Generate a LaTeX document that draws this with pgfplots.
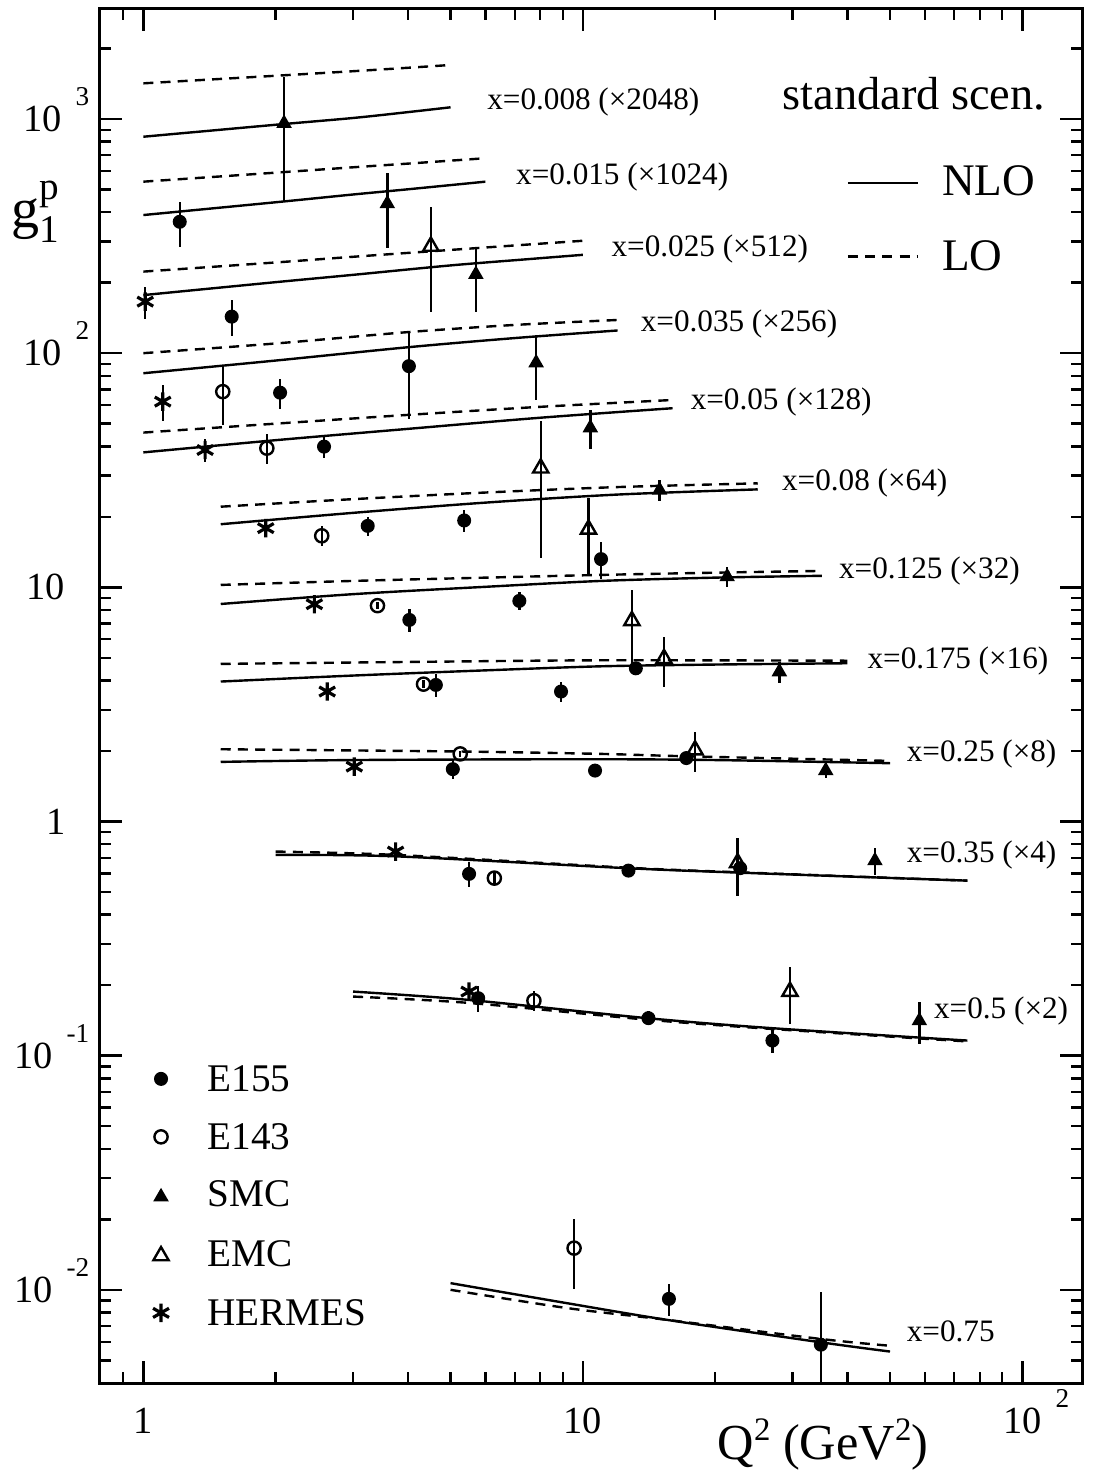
\documentclass[border=0pt]{standalone}
\usepackage{fontspec}
\setmainfont{Liberation Serif}
\usepackage{pgfplots}
\usepackage{pgfplotstable}
\pgfplotsset{compat=1.18}

\newcommand{\fs}[1]{\fontsize{#1}{#1}\selectfont}
\newcommand{\ey}[1]{\hspace{3.5pt}\raisebox{6.5pt}[0pt][0pt]{\fs{6.8}#1}}
\newcommand{\ex}[1]{\rlap{\hspace{3.5pt}\raisebox{6.5pt}[0pt][0pt]{\fs{6.8}#1}}}

% data: Q2, g1p (scaled), error plus, error minus
\pgfplotstableread{
x y ep em
1.21 364 80 80
1.589 143.2 25 25
4.02 88 35.5 35.5
2.047 67.8 10 10
2.577 39.9 4.3 4.3
3.24 18.3 1.7 1.7
5.37 19.3 2.1 2.1
11.0 13.2 2.35 2.35
4.03 7.26 0.8 0.8
7.17 8.75 0.78 0.78
4.63 3.83 0.43 0.43
8.92 3.59 0.36 0.36
13.2 4.51 0.3 0.3
5.06 1.673 0.15 0.15
10.66 1.65 0.1 0.1
17.2 1.866 0.05 0.05
5.51 0.5975 0.074 0.074
12.7 0.617 0.03 0.03
22.8 0.632 0.02 0.02
5.78 0.176 0.023 0.023
14.1 0.1446 0.01 0.01
27.0 0.116 0.0135 0.0135
15.7 0.00915 0.0014 0.0014
34.8 0.00583 0.004 0.004
}\tEonefivefive
\pgfplotstableread{
x y ep em
1.516 68.5 19 19
1.91 39.3 5.7 5.7
2.546 16.6 1.6 1.6
3.41 8.35 0.3 0.3
4.34 3.86 0.15 0.15
5.26 1.944 0.05 0.05
6.29 0.573 0.03 0.03
7.74 0.1717 0.017 0.017
9.55 0.01507 0.005 0.005
}\tEonefourthree
\pgfplotstableread{
x y ep em
2.09 958 558 514
3.59 435 153 153
5.71 217 67 67
7.83 91 28 28
10.4 48 9 9
14.95 26.0 2.6 2.6
21.3 11.1 1.1 1.1
28.0 4.36 0.45 0.45
35.7 1.65 0.12 0.12
46.2 0.68 0.09 0.09
58.3 0.141 0.029 0.029
}\tSMC
\pgfplotstableread{
x y ep em
4.51 286 136 136
8.02 32.3 19 19
10.3 17.7 6.3 6.3
12.93 7.2 2.5 2.5
15.3 4.96 1.19 1.19
18.0 2.02 0.4 0.4
22.5 0.666 0.183 0.183
29.6 0.188 0.052 0.052
}\tEMC
\pgfplotstableread{
x y ep em
1.01 166 26 26
1.107 62.1 11 11
1.382 38.6 4.4 4.4
1.899 17.9 1.0 1.0
2.45 8.47 0.6 0.6
2.62 3.59 0.3 0.3
3.02 1.716 0.08 0.08
3.75 0.744 0.04 0.04
5.51 0.1878 0.015 0.015
}\tHERMES

\pgfplotsset{
  nlo/.style={black, line width=0.6pt, no marks, smooth},
  lo/.style={black, line width=0.6pt, no marks, smooth, dash pattern=on 2.5pt off 1.8pt},
  errs/.style={draw=none, no marks,
    error bars/y dir=both, error bars/y explicit, error bars/error mark=none,
    error bars/error bar style={draw=black, line width=0.6pt, solid}},
  e155/.style={mark=*, mark size=1.55pt, mark options={fill=black}},
  e143/.style={mark=o, mark size=1.65pt, mark options={fill=white, line width=0.6pt}},
  smc/.style={mark=triangle*, mark size=1.85pt, mark options={fill=black}},
  emc/.style={mark=triangle, mark size=2.2pt, mark options={fill=white, line width=0.6pt}},
  hermes/.style={mark=asterisk, mark size=2.3pt, mark options={line width=0.8pt}},
}

\begin{document}
\begin{tikzpicture}
\begin{axis}[
  xmode=log, ymode=log,
  scale only axis, width=245.5pt, height=343.5pt,
  xmin=0.797, xmax=136.7, ymin=0.004, ymax=2950,
  clip mode=individual,
  axis line style={line width=0.75pt},
  tick align=inside, tick pos=both,
  major tick length=5.5pt, minor tick length=2.75pt,
  every tick/.style={line width=0.6pt, black},
  xtick={1,10,100},
  minor xtick={0.9,2,3,4,5,6,7,8,9,20,30,40,50,60,70,80,90},
  xticklabels={1,10,10\ex{2}},
  ytick={0.01,0.1,1,10,100,1000},
  minor ytick={0.005,0.006,0.007,0.008,0.009,0.02,0.03,0.04,0.05,0.06,0.07,0.08,0.09,0.2,0.3,0.4,0.5,0.6,0.7,0.8,0.9,2,3,4,5,6,7,8,9,20,30,40,50,60,70,80,90,200,300,400,500,600,700,800,900,2000},
  yticklabels={10\ey{-2},10\ey{-1},1\rule{5.75pt}{0pt},10\rule{6pt}{0pt},10\ey{2},10\ey{3}},
  xticklabel style={font=\fs{9.6}, anchor=north, inner sep=0pt, yshift=-6pt},
  yticklabel style={font=\fs{9.6}, anchor=east, inner sep=0pt, xshift=-2.5pt},
]

% ---------- theory curves ----------
% x=0.008
\addplot[nlo] coordinates {(1,840) (2,945) (3,1010) (4,1070) (5,1122)};
\addplot[lo]  coordinates {(1,1420) (2,1530) (3,1600) (4,1655) (5,1701)};
% x=0.015
\addplot[nlo] coordinates {(1,389) (2,441) (3,476) (4,501) (6,540)};
\addplot[lo]  coordinates {(1,540) (2,590) (3,622) (4,645) (6,680)};
% x=0.025
\addplot[nlo] coordinates {(1,177) (2,201) (3,216) (5,237) (7.5,252) (10,263)};
\addplot[lo]  coordinates {(1,223) (2,244) (3,258) (5,276) (7.5,291) (10,302)};
% x=0.035
\addplot[nlo] coordinates {(1,82.1) (2,93) (4,106) (7,116) (12,125)};
\addplot[lo]  coordinates {(1,100) (2,110) (4,123) (7,132) (12,138.6)};
% x=0.05
\addplot[nlo] coordinates {(1,37.7) (2,42.5) (4,47.5) (8,53) (16,58.2)};
\addplot[lo]  coordinates {(1,45.8) (2,50) (4,54.5) (8,59) (16,63.1)};
% x=0.08
\addplot[nlo] coordinates {(1.5,18.6) (3,20.8) (6,23) (12,24.9) (25,26.2)};
\addplot[lo]  coordinates {(1.5,22.1) (3,23.8) (6,25.4) (12,26.8) (25,27.8)};
% x=0.125
\addplot[nlo] coordinates {(1.5,8.49) (3,9.35) (6,10.05) (11,10.65) (20,11.0) (35,11.2)};
\addplot[lo]  coordinates {(1.5,10.24) (3,10.65) (6,11.0) (11,11.3) (20,11.55) (35,11.75)};
% x=0.175
\addplot[nlo] coordinates {(1.5,3.96) (3,4.2) (6,4.42) (11,4.6) (20,4.68) (40,4.74)};
\addplot[lo]  coordinates {(1.5,4.71) (4,4.8) (11,4.88) (40,4.86)};
% x=0.25
\addplot[nlo] coordinates {(1.5,1.797) (3,1.83) (10,1.845) (20,1.83) (50,1.774)};
\addplot[lo]  coordinates {(1.5,2.035) (5.3,1.99) (11,1.944) (17,1.90) (50,1.815)};
% x=0.35
\addplot[nlo] coordinates {(2,0.72) (3.75,0.71) (12.6,0.632) (22.6,0.605) (75,0.559)};
\addplot[lo]  coordinates {(2,0.744) (3.75,0.72) (12.6,0.635) (22.6,0.607) (75,0.559)};
% x=0.5
\addplot[nlo] coordinates {(3,0.1878) (5.5,0.173) (14,0.1446) (27,0.131) (75,0.116)};
\addplot[lo]  coordinates {(3,0.1788) (5.5,0.168) (14,0.1425) (27,0.13) (75,0.115)};
% x=0.75
\addplot[nlo] coordinates {(5,0.01068) (9.2,0.00877) (15.5,0.00745) (35,0.00596) (50,0.00545)};
\addplot[lo]  coordinates {(5,0.0100) (9.2,0.00836) (15.5,0.00745) (35,0.00616) (50,0.00577)};

% ---------- data: error bars first, marks on top ----------
\addplot[errs] table[x=x, y=y, y error plus=ep, y error minus=em] {\tEonefivefive};
\addplot[errs] table[x=x, y=y, y error plus=ep, y error minus=em] {\tEonefourthree};
\addplot[errs] table[x=x, y=y, y error plus=ep, y error minus=em] {\tSMC};
\addplot[errs] table[x=x, y=y, y error plus=ep, y error minus=em] {\tEMC};
\addplot[errs] table[x=x, y=y, y error plus=ep, y error minus=em] {\tHERMES};
\addplot[black, only marks, e155] table[x=x, y=y] {\tEonefivefive};
\addplot[black, only marks, e143] table[x=x, y=y] {\tEonefourthree};
\addplot[black, only marks, smc] table[x=x, y=y] {\tSMC};
\addplot[black, only marks, emc] table[x=x, y=y] {\tEMC};
\addplot[black, only marks, hermes] table[x=x, y=y] {\tHERMES};

% ---------- legend samples ----------
\addplot[black, line width=0.6pt, no marks] coordinates {(40.1,531.5) (57.9,531.5)};
\addplot[black, line width=0.6pt, no marks, dash pattern=on 2.5pt off 1.8pt] coordinates {(40.1,258.2) (57.9,258.2)};
\addplot[black, only marks, e155] coordinates {(1.097,0.0796)};
\addplot[black, only marks, e143] coordinates {(1.097,0.0450)};
\addplot[black, only marks, smc] coordinates {(1.097,0.02495)};
\addplot[black, only marks, emc] coordinates {(1.097,0.01397)};
\addplot[black, only marks, hermes] coordinates {(1.097,0.007974)};

% ---------- texts ----------
\begin{scope}[every node/.style={anchor=base west, inner sep=0pt, font=\fs{7.8}}]
\node at (rel axis cs:0.3936,0.9272) {x=0.008 (×2048)};
\node at (rel axis cs:0.4230,0.8719) {x=0.015 (×1024)};
\node at (rel axis cs:0.5202,0.8197) {x=0.025 (×512)};
\node at (rel axis cs:0.5499,0.7656) {x=0.035 (×256)};
\node at (rel axis cs:0.6008,0.7087) {x=0.05 (×128)};
\node at (rel axis cs:0.6938,0.6499) {x=0.08 (×64)};
\node at (rel axis cs:0.7518,0.5857) {x=0.125 (×32)};
\node at (rel axis cs:0.7808,0.5202) {x=0.175 (×16)};
\node at (rel axis cs:0.8208,0.4522) {x=0.25 (×8)};
\node at (rel axis cs:0.8208,0.3790) {x=0.35 (×4)};
\node at (rel axis cs:0.8486,0.2654) {x=0.5 (×2)};
\node at (rel axis cs:0.8208,0.0301) {x=0.75};
\end{scope}
\begin{scope}[every node/.style={anchor=base west, inner sep=0pt, font=\fs{11.3}}]
\node[font=\fs{11.6}] at (rel axis cs:0.6942,0.9265) {standard scen.};
\node at (rel axis cs:0.8569,0.8639) {NLO};
\node at (rel axis cs:0.8569,0.8100) {LO};
\end{scope}
\begin{scope}[every node/.style={anchor=base west, inner sep=0pt, font=\fs{9.8}}]
\node at (rel axis cs:0.1087,0.2120) {E155};
\node at (rel axis cs:0.1087,0.1701) {E143};
\node at (rel axis cs:0.1087,0.1283) {SMC};
\node at (rel axis cs:0.1087,0.0846) {EMC};
\node at (rel axis cs:0.1087,0.0422) {HERMES};
\end{scope}
% axis titles
\node[anchor=base west, inner sep=0pt] at (rel axis cs:-0.0905,0.8413)
  {{\fs{14}g}\rlap{\raisebox{7pt}{\fs{9.8}p}}\raisebox{-3.75pt}{\fs{9.8}1}};
\node[anchor=base west, inner sep=0pt, font=\fs{12.6}] at (rel axis cs:0.6283,-0.056)
  {Q\raisebox{4.8pt}{\fs{8.2}2} (GeV\raisebox{4.8pt}{\fs{8.2}2})};
\end{axis}
\pgfresetboundingbox
\path[use as bounding box] ([shift={(-25pt,-23pt)}]current axis.south west) rectangle ([shift={(3.5pt,2.25pt)}]current axis.north east);
\end{tikzpicture}
\end{document}
